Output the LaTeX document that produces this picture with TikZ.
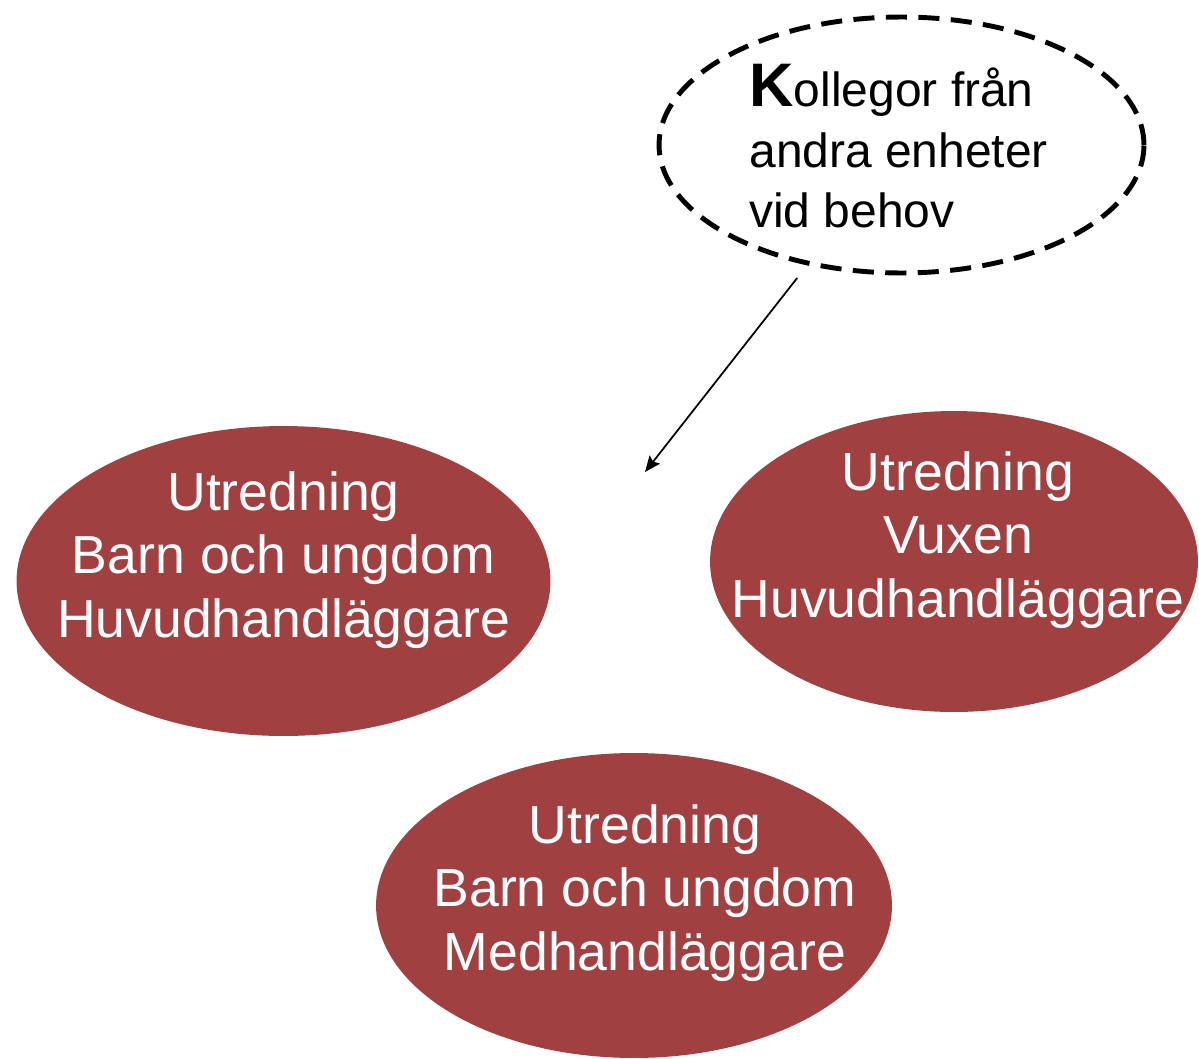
\documentclass[tikz,border=0pt]{standalone}
\usepackage{fontspec}
\setmainfont{Liberation Sans}
\usetikzlibrary{shapes.geometric,arrows.meta}
\definecolor{blobred}{RGB}{160,64,65}

\begin{document}
\begin{tikzpicture}[x=0.02cm,y=-0.02cm,
    blob/.style={ellipse,fill=blobred,inner sep=0pt},
    blobtext/.style={text=white,align=center,inner sep=0pt,font=\fontsize{30.5}{36}\selectfont},
    cloud/.style={ellipse,draw,line width=2.8pt,dash pattern=on 12pt off 6.5pt,inner sep=0pt}]
    \useasboundingbox (0,0) rectangle (1199,1058);
    % utredning
    \node[blob,minimum width=10.68cm,minimum height=6.2cm] (bu) at (283.5,581) {};
    \node[blobtext] (butext) at (283.5,560) {Utredning\\Barn och ungdom\\Huvudhandläggare};
    \node[blob,minimum width=9.76cm,minimum height=6.02cm] (vux) at (954,561.5) {};
    \node[blobtext] (vuxtext) at (958,540) {Utredning\\Vuxen\\Huvudhandläggare};
    \node[blob,minimum width=10.32cm,minimum height=6.1cm] (med) at (634,905.5) {};
    \node[blobtext] (medtext) at (645,893) {Utredning\\Barn och ungdom\\Medhandläggare};
    % kollegor
    \node[cloud,minimum width=9.7cm,minimum height=5.12cm] (kol) at (901.5,145) {};
    \node[anchor=north west,align=left,inner sep=0pt,font=\fontsize{27.3}{34.5}\selectfont] (koltext) at (749,64)
      {{\fontsize{35}{34.5}\selectfont\bfseries K}ollegor från\\andra enheter\\vid behov};
    \coordinate (tip) at (645,472);
    \draw[line width=1pt,-{Stealth[length=9pt,width=7.5pt,inset=1.5pt]},shorten <=0.32cm] (kol) -- (tip);
\end{tikzpicture}
\end{document}
